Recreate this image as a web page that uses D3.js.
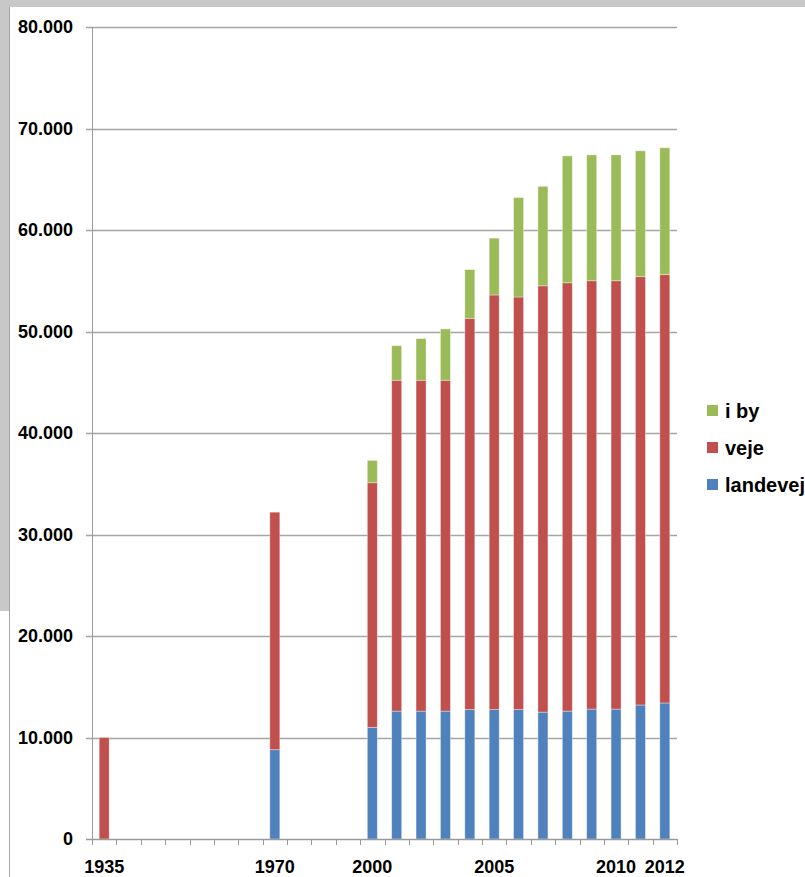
<!DOCTYPE html>
<html>
<head>
<meta charset="utf-8">
<script src="https://cdn.jsdelivr.net/npm/d3@7"></script>
<style>
  html, body { margin: 0; padding: 0; background: #fff; }
  svg { display: block; }
  text { font-family: "Liberation Sans", Arial, sans-serif; font-weight: bold; fill: #000; }
</style>
</head>
<body>
<script>
// Categories (empty slots are unlabeled gap years)
const categories = ["1935","g1","g2","g3","g4","g5","g6","1970","g7","g8","g9",
  "2000","2001","2002","2003","2004","2005","2006","2007","2008","2009","2010","2011","2012"];
const tickLabels = ["1935","1970","2000","2005","2010","2012"];
const seriesNames = ["landevej","veje","i by"];
const landevej = [0,0,0,0,0,0,0,8800,0,0,0,
  11000,12600,12600,12600,12750,12750,12750,12500,12600,12800,12800,13200,13400];
const veje = [10000,0,0,0,0,0,0,23400,0,0,0,
  24100,32600,32600,32600,38550,40850,40650,42000,42200,42200,42200,42200,42200];
const iby = [0,0,0,0,0,0,0,0,0,0,0,
  2200,3400,4100,5050,4800,5600,9800,9800,12500,12400,12400,12400,12500];
const yTicks = [0,10000,20000,30000,40000,50000,60000,70000,80000];
const colors = {"landevej":"#4F81BD","veje":"#C0504D","i by":"#9BBB59"};

const W = 805, H = 877;
const svg = d3.select("body").append("svg").attr("width", W).attr("height", H);

// window frame
svg.append("rect").attr("x",0).attr("y",0).attr("width",W).attr("height",7).attr("fill","#c8c8c8");
svg.append("rect").attr("x",0).attr("y",0).attr("width",9).attr("height",611).attr("fill","#c8c8c8");
svg.append("line").attr("x1",9.5).attr("x2",9.5).attr("y1",7).attr("y2",H).attr("stroke","#a6a6a6").attr("stroke-width",1);

const pLeft = 92, pRight = 677, pTop = 27, pBottom = 839;
const x = d3.scaleBand().domain(categories).range([pLeft,pRight]).paddingInner(0).paddingOuter(0);
const y = d3.scaleLinear().domain([0,80000]).range([pBottom,pTop]);

// gridlines
svg.append("g").selectAll("line").data(yTicks.filter(d=>d>0)).join("line")
  .attr("x1",pLeft-6).attr("x2",pRight)
  .attr("y1",d=>Math.round(y(d))+0.5).attr("y2",d=>Math.round(y(d))+0.5)
  .attr("stroke","#a5a5a5").attr("stroke-width",1.5);

// y labels
const fmt = d => d===0 ? "0" : d3.format(",")(d).replace(/,/g,".");
svg.append("g").selectAll("text").data(yTicks).join("text")
  .attr("x",73).attr("y",d=>y(d)).attr("dy","0.36em")
  .attr("text-anchor","end").attr("font-size",18).text(fmt);

// stacked bars
const rows = categories.map((c,i)=>({cat:c,"landevej":landevej[i],"veje":veje[i],"i by":iby[i]}));
const stack = d3.stack().keys(seriesNames)(rows);
const bw = 10;
svg.append("g").selectAll("g").data(stack).join("g")
  .attr("fill", d=>colors[d.key])
  .selectAll("rect").data(d=>d.filter(s=>s[1]-s[0]>0)).join("rect")
  .attr("x", d=>x(d.data.cat)+x.bandwidth()/2-bw/2)
  .attr("width", bw)
  .attr("y", d=>y(d[1]))
  .attr("height", d=>y(d[0])-y(d[1]))
  .attr("stroke","rgba(255,255,255,0.45)").attr("stroke-width",0.8);

// axes lines
svg.append("line").attr("x1",pLeft+0.5).attr("x2",pLeft+0.5).attr("y1",pTop).attr("y2",pBottom+6)
  .attr("stroke","#9a9a9a").attr("stroke-width",1);
svg.append("line").attr("x1",pLeft-6).attr("x2",pRight).attr("y1",pBottom+0.5).attr("y2",pBottom+0.5)
  .attr("stroke","#9a9a9a").attr("stroke-width",1.5);

// x ticks at category boundaries
const bounds = categories.map(c=>x(c)).concat([pRight]);
svg.append("g").selectAll("line").data(bounds.slice(1)).join("line")
  .attr("x1",d=>Math.round(d)+0.5).attr("x2",d=>Math.round(d)+0.5)
  .attr("y1",pBottom).attr("y2",pBottom+6)
  .attr("stroke","#9a9a9a").attr("stroke-width",1);

// x labels
svg.append("g").selectAll("text").data(tickLabels).join("text")
  .attr("x",d=>x(d)+x.bandwidth()/2).attr("y",873)
  .attr("text-anchor","middle").attr("font-size",18).text(d=>d);

// legend
const legendItems = ["i by","veje","landevej"];
const lg = svg.append("g").selectAll("g").data(legendItems).join("g")
  .attr("transform",(d,i)=>`translate(707,${405+i*37})`);
lg.append("rect").attr("width",11).attr("height",11).attr("fill",d=>colors[d]);
lg.append("text").attr("x",18).attr("y",12.5).attr("font-size",20).text(d=>d);
</script>
</body>
</html>
